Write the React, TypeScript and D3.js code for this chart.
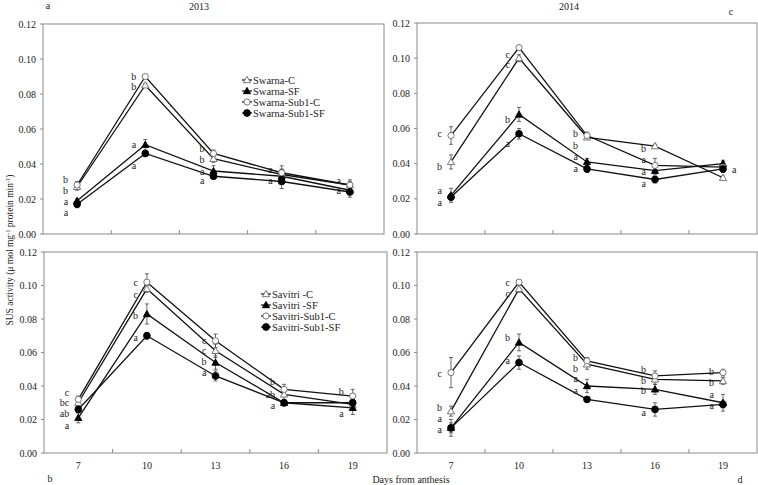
import React from "react";
import * as d3 from "d3";

const days = ["7", "10", "13", "16", "19"];
const yTicks = [0, 0.02, 0.04, 0.06, 0.08, 0.1, 0.12];
const markerTypes = ["triOpen", "triFilled", "circOpen", "circFilled"];

const swarnaNames = ["Swarna-C", "Swarna-SF", "Swarna-Sub1-C", "Swarna-Sub1-SF"];
const savitriNames = ["Savitri -C", "Savitri -SF", "Savitri-Sub1-C", "Savitri-Sub1-SF"];

// 2013 Swarna
const sw13C = [0.027, 0.085, 0.043, 0.034, 0.028];
const sw13SF = [0.019, 0.051, 0.036, 0.033, 0.025];
const sw13Sub1C = [0.028, 0.09, 0.046, 0.035, 0.028];
const sw13Sub1SF = [0.017, 0.046, 0.033, 0.03, 0.024];
const sw13Err = [
  [0.002, 0.001, 0.002, 0.003, 0.002],
  [0.001, 0.003, 0.003, 0.004, 0.002],
  [0.002, 0.001, 0.002, 0.004, 0.003],
  [0.002, 0.001, 0.001, 0.004, 0.003],
];
const sw13Letters: [number, number, string][] = [
  [0, 0.031, "b"], [0, 0.025, "b"], [0, 0.0186, "a"], [0, 0.0123, "a"],
  [1, 0.0902, "b"], [1, 0.0845, "b"], [1, 0.051, "a"], [1, 0.0394, "a"],
  [2, 0.0487, "b"], [2, 0.0425, "b"], [2, 0.036, "a"], [2, 0.0303, "a"],
  [3, 0.037, "a"], [3, 0.0303, "a"],
  [4, 0.0307, "a"], [4, 0.0246, "a"],
];

// 2014 Swarna
const sw14C = [0.041, 0.1, 0.055, 0.05, 0.032];
const sw14SF = [0.022, 0.068, 0.041, 0.036, 0.04];
const sw14Sub1C = [0.056, 0.106, 0.056, 0.039, 0.038];
const sw14Sub1SF = [0.021, 0.057, 0.037, 0.031, 0.037];
const sw14Err = [
  [0.004, 0.002, 0.001, 0.001, 0.001],
  [0.004, 0.004, 0.002, 0.002, 0.002],
  [0.005, 0.001, 0.002, 0.004, 0.003],
  [0.002, 0.003, 0.002, 0.002, 0.002],
];
const sw14Letters: [number, number, string][] = [
  [0, 0.0569, "c"], [0, 0.0383, "b"], [0, 0.0247, "a"], [0, 0.018, "a"],
  [1, 0.1023, "c"], [1, 0.0965, "c"], [1, 0.065, "b"], [1, 0.0515, "a"],
  [2, 0.0569, "b"], [2, 0.0505, "b"], [2, 0.044, "a"], [2, 0.0375, "a"],
  [3, 0.0489, "b"], [3, 0.0423, "a"], [3, 0.0355, "a"], [3, 0.0289, "a"],
  [4.3, 0.0369, "a"],
];

// 2013 Savitri
const sv13C = [0.03, 0.098, 0.061, 0.035, 0.029];
const sv13SF = [0.021, 0.083, 0.054, 0.03, 0.027];
const sv13Sub1C = [0.032, 0.102, 0.067, 0.038, 0.034];
const sv13Sub1SF = [0.026, 0.07, 0.046, 0.03, 0.03];
const sv13Err = [
  [0.002, 0.002, 0.004, 0.003, 0.003],
  [0.003, 0.006, 0.004, 0.002, 0.004],
  [0.002, 0.005, 0.004, 0.003, 0.004],
  [0.002, 0.002, 0.003, 0.001, 0.003],
];
const sv13Letters: [number, number, string][] = [
  [0, 0.0364, "c"], [0, 0.0299, "bc"], [0, 0.0233, "ab"], [0, 0.0165, "a"],
  [1, 0.1015, "c"], [1, 0.0945, "c"], [1, 0.082, "b"], [1, 0.0687, "a"],
  [2, 0.067, "c"], [2, 0.061, "c"], [2, 0.0547, "b"], [2, 0.0478, "a"],
  [3, 0.0428, "b"], [3, 0.0352, "ab"], [3, 0.0285, "a"],
  [4, 0.0368, "b"], [4, 0.0233, "a"],
];

// 2014 Savitri
const sv14C = [0.025, 0.098, 0.053, 0.044, 0.043];
const sv14SF = [0.015, 0.066, 0.04, 0.038, 0.03];
const sv14Sub1C = [0.048, 0.102, 0.055, 0.046, 0.048];
const sv14Sub1SF = [0.015, 0.054, 0.032, 0.026, 0.029];
const sv14Err = [
  [0.003, 0.002, 0.003, 0.003, 0.002],
  [0.005, 0.005, 0.004, 0.003, 0.005],
  [0.009, 0.001, 0.002, 0.003, 0.002],
  [0.003, 0.004, 0.001, 0.004, 0.002],
];
const sv14Letters: [number, number, string][] = [
  [0, 0.0472, "c"], [0, 0.0273, "b"], [0, 0.0205, "a"], [0, 0.0139, "a"],
  [1, 0.1019, "c"], [1, 0.0951, "c"], [1, 0.069, "b"], [1, 0.0551, "a"],
  [2, 0.0571, "b"], [2, 0.0507, "b"], [2, 0.0442, "a"], [2, 0.0372, "a"],
  [3, 0.0501, "b"], [3, 0.0434, "b"], [3, 0.0372, "b"], [3, 0.0239, "a"],
  [4, 0.0484, "b"], [4, 0.0422, "b"], [4, 0.0348, "a"], [4, 0.0283, "a"],
];

const FONT = '"Liberation Serif", "Times New Roman", Times, serif';
const FRAME = "#8a8a8a";

type PanelProps = {
  x0: number; x1: number; y0: number; y1: number;
  series: number[][]; errs: number[][];
  letters: [number, number, string][];
  names?: string[]; legendX?: number; legendY?: number;
  showXLabels: boolean;
};

function Marker({ type, cx, cy }: { type: string; cx: number; cy: number }) {
  if (type === "triOpen" || type === "triFilled") {
    const s = 3.6;
    const d = `M${cx},${cy - s}L${cx + s},${cy + s * 0.75}L${cx - s},${cy + s * 0.75}Z`;
    return (
      <path d={d} fill={type === "triFilled" ? "#000" : "#fff"} stroke={type === "triFilled" ? "#000" : "#666"} strokeWidth={0.9} />
    );
  }
  return (
    <circle cx={cx} cy={cy} r={type === "circFilled" ? 3.4 : 3.1}
      fill={type === "circFilled" ? "#000" : "#fff"} stroke={type === "circFilled" ? "#000" : "#666"} strokeWidth={0.9} />
  );
}

function Panel(p: PanelProps) {
  const x = d3.scaleBand<string>().domain(days).range([p.x0, p.x1]).padding(0);
  const y = d3.scaleLinear().domain([0, 0.12]).range([p.y1, p.y0]);
  const cx = (i: number) => (x(days[i]) as number) + x.bandwidth() / 2;
  const line = d3.line<number>().x((_, i) => cx(i)).y((v) => y(v));
  const step = x.step();
  return (
    <g>
      <rect x={p.x0} y={p.y0} width={p.x1 - p.x0} height={p.y1 - p.y0} fill="none" stroke={FRAME} strokeWidth={1} />
      {yTicks.map((t) => (
        <g key={t}>
          <line x1={p.x0 - 3} x2={p.x0} y1={y(t)} y2={y(t)} stroke={FRAME} />
          <text x={p.x0 - 7} y={y(t)} dy="0.35em" textAnchor="end" fontSize={10} fill="#222">
            {t.toFixed(2)}
          </text>
        </g>
      ))}
      {d3.range(1, days.length).map((i) => (
        <line key={i} x1={p.x0 + i * step} x2={p.x0 + i * step} y1={p.y1} y2={p.y1 - 4} stroke={FRAME} />
      ))}
      {p.showXLabels &&
        days.map((d, i) => (
          <text key={d} x={cx(i)} y={p.y1 + 12} dy="0.35em" textAnchor="middle" fontSize={10} fill="#222">
            {d}
          </text>
        ))}
      {p.series.map((s, k) => (
        <path key={"l" + k} d={line(s) as string} fill="none" stroke="#111" strokeWidth={1.3} />
      ))}
      {p.series.map((s, k) =>
        s.map((v, i) => {
          const e = p.errs[k][i];
          return (
            <g key={"e" + k + "-" + i} stroke="#444" strokeWidth={0.8}>
              <line x1={cx(i)} x2={cx(i)} y1={y(v - e)} y2={y(v + e)} />
              <line x1={cx(i) - 2} x2={cx(i) + 2} y1={y(v - e)} y2={y(v - e)} />
              <line x1={cx(i) - 2} x2={cx(i) + 2} y1={y(v + e)} y2={y(v + e)} />
            </g>
          );
        })
      )}
      {p.series.map((s, k) =>
        s.map((v, i) => <Marker key={"m" + k + "-" + i} type={markerTypes[k]} cx={cx(i)} cy={y(v)} />)
      )}
      {p.letters.map(([di, v, l], j) => {
        const base = p.x0 + step * (Math.floor(di) + 0.5);
        const right = di % 1 !== 0;
        return (
          <text key={"t" + j} x={right ? base + 9 : base - 9} y={y(v)} dy="0.35em"
            textAnchor={right ? "start" : "end"} fontSize={10} fill="#222">
            {l}
          </text>
        );
      })}
      {p.names &&
        p.names.map((n, k) => {
          const ly = (p.legendY as number) + k * 11;
          const lx = p.legendX as number;
          return (
            <g key={"lg" + k}>
              <line x1={lx} x2={lx + 10} y1={ly} y2={ly} stroke="#111" strokeWidth={1.2} />
              <Marker type={markerTypes[k]} cx={lx + 5} cy={ly} />
              <text x={lx + 11} y={ly} dy="0.35em" fontSize={10.5} fill="#222">
                {n}
              </text>
            </g>
          );
        })}
    </g>
  );
}

export default function App() {
  return (
    <svg width={758} height={485} fontFamily={FONT}
      style={{ position: "absolute", left: 0, top: 0, background: "#fff", fontFamily: FONT }}>
      <rect width={758} height={485} fill="#fff" />
      <text x={48} y={5} dy="0.35em" textAnchor="middle" fontSize={10} fill="#222">a</text>
      <text x={199} y={6} dy="0.35em" textAnchor="middle" fontSize={10} fill="#222">2013</text>
      <text x={569} y={6} dy="0.35em" textAnchor="middle" fontSize={10} fill="#222">2014</text>
      <text x={731} y={11} dy="0.35em" textAnchor="middle" fontSize={10} fill="#222">c</text>
      <Panel x0={43} x1={384} y0={24} y1={234} series={[sw13C, sw13SF, sw13Sub1C, sw13Sub1SF]} errs={sw13Err}
        letters={sw13Letters} names={swarnaNames} legendX={242} legendY={80} showXLabels={false} />
      <Panel x0={417} x1={757} y0={23} y1={234} series={[sw14C, sw14SF, sw14Sub1C, sw14Sub1SF]} errs={sw14Err}
        letters={sw14Letters} showXLabels={false} />
      <Panel x0={44} x1={387} y0={252} y1={453} series={[sv13C, sv13SF, sv13Sub1C, sv13Sub1SF]} errs={sv13Err}
        letters={sv13Letters} names={savitriNames} legendX={261} legendY={294} showXLabels={true} />
      <Panel x0={417} x1={757} y0={252} y1={453} series={[sv14C, sv14SF, sv14Sub1C, sv14Sub1SF]} errs={sv14Err}
        letters={sv14Letters} showXLabels={true} />
      <text transform="translate(10,250) rotate(-90)" textAnchor="middle" dy="0.35em" fontSize={9.5} fill="#222">
        SUS activity (μ mol mg<tspan baseline-shift="super" fontSize={6.5}>-1</tspan> protein min<tspan baseline-shift="super" fontSize={6.5}>-1</tspan>)
      </text>
      <text x={50} y={478} dy="0.35em" textAnchor="middle" fontSize={10} fill="#222">b</text>
      <text x={411} y={479} dy="0.35em" textAnchor="middle" fontSize={10} fill="#222">Days from anthesis</text>
      <text x={740} y={479} dy="0.35em" textAnchor="middle" fontSize={10} fill="#222">d</text>
    </svg>
  );
}
